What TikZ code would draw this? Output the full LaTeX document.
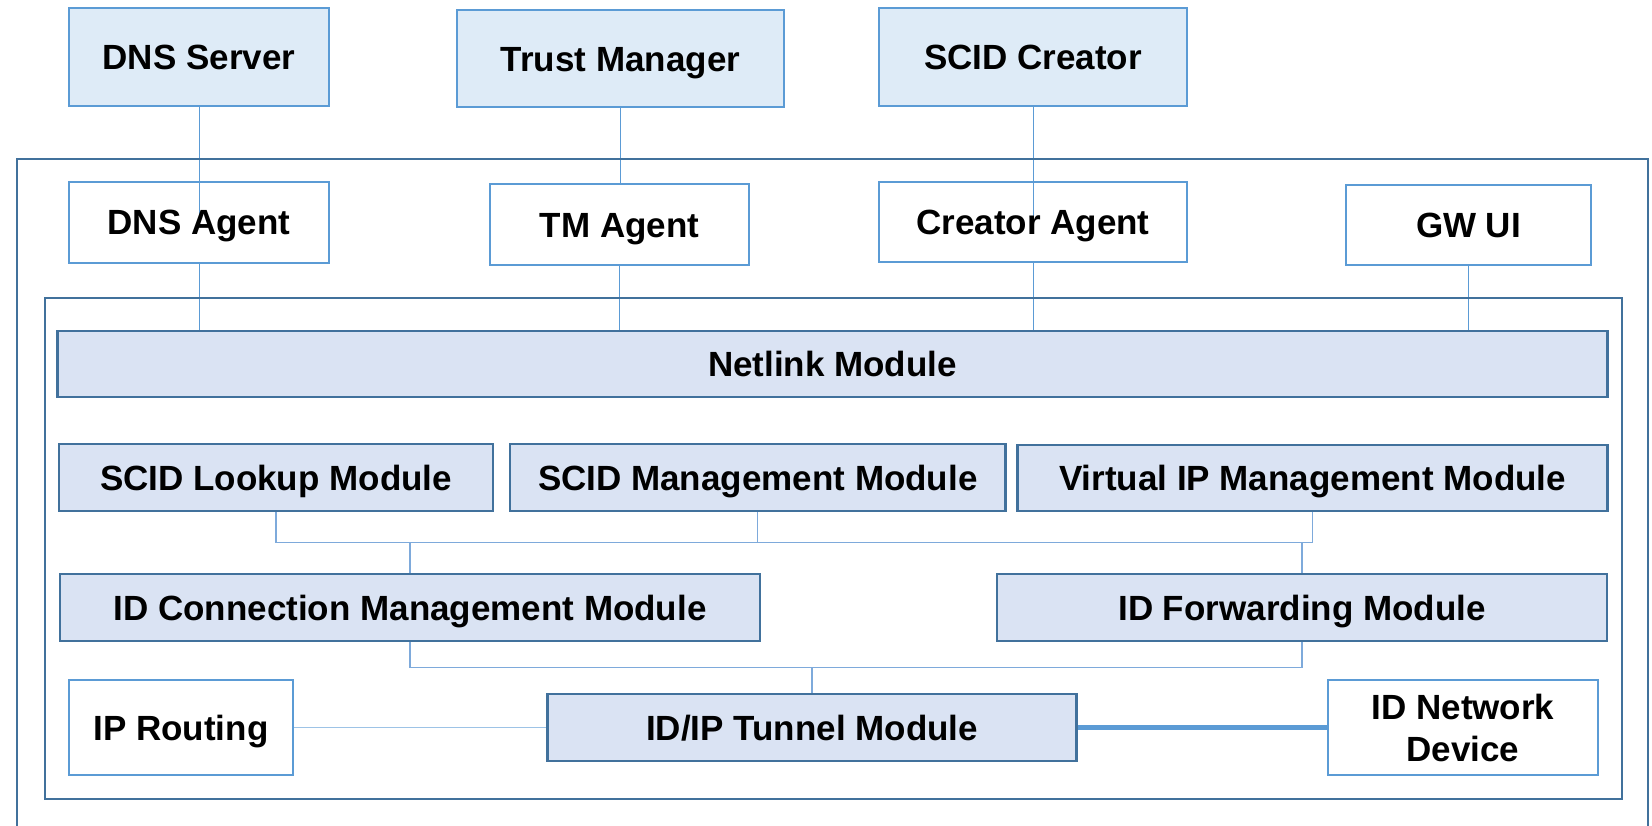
\documentclass[tikz,border=0pt]{standalone}
\usepackage{fontspec}
\setmainfont{Liberation Sans}
\usetikzlibrary{backgrounds}
\definecolor{topfill}{HTML}{DEEBF7}
\definecolor{modfill}{HTML}{DAE3F3}
\definecolor{lblue}{HTML}{5B9BD5}
\definecolor{dblue}{HTML}{41719C}
\definecolor{busblue}{HTML}{7EAADB}
\definecolor{pale}{HTML}{9DC3E6}
\begin{document}
\begin{tikzpicture}[x=1pt,y=-1pt,
  base/.style={rectangle, inner sep=0pt, font=\fontsize{35}{42}\selectfont\bfseries, text=black},
  onel/.style={text height=25pt, text depth=0pt},
  topbox/.style={base, onel, draw=lblue, line width=2pt, fill=topfill},
  agentbox/.style={base, onel, draw=lblue, line width=2pt},
  modbox/.style={base, onel, draw=dblue, line width=2.2pt, fill=modfill},
  container/.style={draw=dblue, line width=2pt},
  conn/.style={draw=lblue, line width=1pt},
  busline/.style={draw=busblue, line width=1.2pt},
  paleline/.style={draw=pale, line width=1.5pt},
  thickline/.style={draw=lblue, line width=5pt}]
\useasboundingbox (0,0) rectangle (1652,826);

% containers
\draw[container] (17,159.5) rectangle (1647.5,840);
\draw[container] (44.5,298.5) rectangle (1621.8,799.3);

% top-level servers
\node[topbox, minimum width=260pt, minimum height=98pt] (dnss) at (199,57.5) {DNS Server};
\node[topbox, minimum width=327pt, minimum height=97pt] (tm) at (620.5,59) {Trust Manager};
\node[topbox, minimum width=308pt, minimum height=97.5pt] (scidc) at (1033,57) {SCID Creator};

% agents
\node[agentbox, minimum width=260pt, minimum height=81pt] (dnsa) at (199,222.5) {DNS Agent};
\node[agentbox, minimum width=259pt, minimum height=80.5pt] (tma) at (619.5,224.7) {TM Agent};
\node[agentbox, minimum width=308pt, minimum height=80pt] (creatora) at (1033,222) {Creator Agent};
\node[agentbox, minimum width=245pt, minimum height=80pt] (gwui) at (1468.5,225) {GW UI};

% modules
\node[modbox, minimum width=1550pt, minimum height=66pt] (netlink) at (832.5,364) {Netlink Module};
\node[modbox, minimum width=434pt, minimum height=67pt] (lookup) at (276,477.5) {SCID Lookup Module};
\node[modbox, minimum width=495.5pt, minimum height=67pt] (scidm) at (757.8,477.5) {SCID Management Module};
\node[modbox, minimum width=590pt, minimum height=66pt] (vip) at (1312.5,478) {Virtual IP Management Module};
\node[modbox, minimum width=699.5pt, minimum height=67pt] (idconn) at (410,607.5) {ID Connection Management Module};
\node[modbox, minimum width=610pt, minimum height=67pt] (idfwd) at (1302,607.5) {ID Forwarding Module};
\node[agentbox, minimum width=224.4pt, minimum height=95.3pt] (iprouting) at (181,727.7) {IP Routing};
\node[modbox, minimum width=529pt, minimum height=67pt] (tunnel) at (812,727.7) {ID/IP Tunnel Module};
\node[base, align=center, draw=lblue, line width=2pt, minimum width=270pt, minimum height=95.3pt] (idnet) at (1463,727.7) {ID Network\\Device};

\coordinate (busA) at (0,542.5);
\coordinate (busB) at (0,667.7);

\begin{scope}[on background layer]
  \draw[conn] (dnss.south) -- (dnsa.center);
  \draw[conn] (dnsa.south) -- (dnsa.south |- netlink.north);
  \draw[conn] (tm.south) -- (tm.south |- tma.north);
  \draw[conn] (tma.south) -- (tma.south |- netlink.north);
  \draw[conn] (scidc.south) -- (creatora.center);
  \draw[conn] (creatora.south) -- (creatora.south |- netlink.north);
  \draw[conn] (gwui.south) -- (gwui.south |- netlink.north);
\end{scope}

\draw[busline] (lookup.south) -- (lookup.south |- busA) -- (vip.south |- busA) -- (vip.south);
\draw[busline] (scidm.south) -- (scidm.south |- busA);
\draw[busline] (idconn.north) -- (idconn.north |- busA);
\draw[busline] (idfwd.north) -- (idfwd.north |- busA);
\draw[busline] (idconn.south) -- (idconn.south |- busB) -- (idfwd.south |- busB) -- (idfwd.south);
\draw[busline] (tunnel.north) -- (tunnel.north |- busB);
\draw[paleline] (iprouting.east) -- (tunnel.west);
\draw[thickline] (tunnel.east) -- (idnet.west);
\end{tikzpicture}
\end{document}
